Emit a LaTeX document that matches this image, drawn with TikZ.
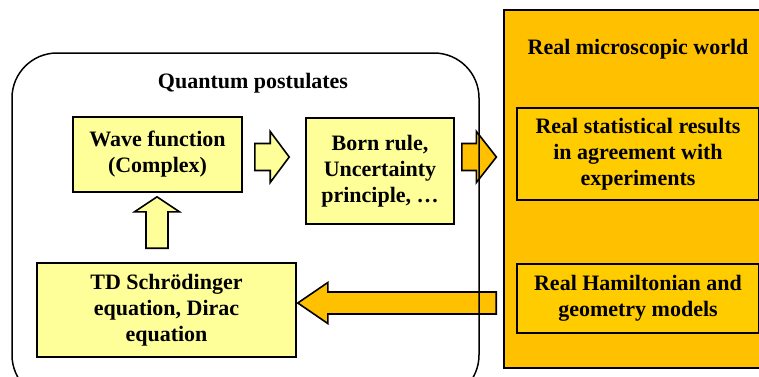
\documentclass[tikz,border=0pt]{standalone}
\usepackage{fontspec}
\setmainfont{Liberation Serif}[BoldFont={Liberation Serif Bold}, ItalicFont={Liberation Serif Italic}]
\newfontfamily\timesb{Liberation Serif Bold}
\usetikzlibrary{calc}
\definecolor{lyellow}{HTML}{FFFF99}
\definecolor{gold}{HTML}{FFC000}
\definecolor{goldin}{HTML}{FFCC00}
% horizontal block arrow: #1 start, #2 tip, #3 shaft half, #4 head half, #5 head length, #6 style
\newcommand{\harr}[6]{\draw[#6] let \p1=(#1),\p2=(#2),\n1={sign(\x2-\x1)} in
 (\x1,{\y1+#3}) -- ({\x2-\n1*#5},{\y1+#3}) -- ({\x2-\n1*#5},{\y1+#4}) -- (\x2,\y1)
 -- ({\x2-\n1*#5},{\y1-#4}) -- ({\x2-\n1*#5},{\y1-#3}) -- (\x1,{\y1-#3}) -- cycle;}
% vertical block arrow
\newcommand{\varr}[6]{\draw[#6] let \p1=(#1),\p2=(#2),\n1={sign(\y2-\y1)} in
 ({\x1+#3},\y1) -- ({\x1+#3},{\y2-\n1*#5}) -- ({\x1+#4},{\y2-\n1*#5}) -- (\x1,\y2)
 -- ({\x1-#4},{\y2-\n1*#5}) -- ({\x1-#3},{\y2-\n1*#5}) -- ({\x1-#3},\y1) -- cycle;}
\begin{document}
\begin{tikzpicture}[x=1pt,y=-1pt,
  every node/.style={font=\timesb\fontsize{22}{26}\selectfont, align=center, inner sep=0pt},
  ybox/.style={draw=black, line width=1.6pt, fill=lyellow},
  gbox/.style={draw=black, line width=1.6pt, fill=goldin},
  yarrow/.style={draw=black, line width=1.6pt, fill=lyellow, line join=miter},
  garrow/.style={draw=black, line width=1.6pt, fill=gold, line join=miter},
  frame/.style={draw=black, line width=1.5pt, rounded corners=45pt}]
\useasboundingbox (0,0) rectangle (759,376);
\clip (0,0) rectangle (759,376);
% real world
\node[draw=black, line width=1.2pt, fill=gold, minimum width=261pt, minimum height=358pt] (world) at (634.5,189) {};
\node (rmw) at (638,49) {Real microscopic world};
\node[gbox, minimum width=242pt, minimum height=92pt] (stat) at (638,154) {Real statistical results\\in agreement with\\experiments};
\node[gbox, minimum width=242pt, minimum height=69pt] (ham) at (638,298.5) {Real Hamiltonian and\\geometry models};
% quantum boxes
\node[ybox, minimum width=169pt, minimum height=75pt] (wf) at (157.5,154.5) {Wave function\\(Complex)};
\node[ybox, minimum width=148pt, minimum height=106pt] (born) at (380,171) {Born rule,\\Uncertainty\\principle, \dots};
\node[ybox, minimum width=259pt, minimum height=94pt] (td) at (166.5,310) {TD Schrödinger\\equation, Dirac\\equation};
% arrow coordinates
\coordinate (a1s) at ($(wf.east)+(12,2.5)$);
\coordinate (a1e) at ($(born.west)+(-16,0)$);
\coordinate (a2s) at ($(born.east)+(7,-14)$);
\coordinate (a2e) at ($(world.west)+(-7,0)$);
\coordinate (a3s) at ($(td.north)+(-9.5,-14)$);
\coordinate (a3e) at ($(wf.south)+(0,4)$);
\coordinate (a4s) at ($(ham.west)+(-20,4.5)$);
\coordinate (a4e) at ($(td.east)+(1,0)$);
\harr{a1s}{a1e}{13.5pt}{25.5pt}{19pt}{yarrow}
\harr{a2s}{a2e}{13.5pt}{25.5pt}{20pt}{garrow}
\varr{a3s}{a3e}{11pt}{22.5pt}{15pt}{yarrow}
\harr{a4s}{a4e}{11pt}{20.5pt}{30pt}{garrow}
% frame
\draw[frame] (12,53) rectangle (479,400);
\node (qp) at (253,83) {Quantum postulates};
\end{tikzpicture}
\end{document}
